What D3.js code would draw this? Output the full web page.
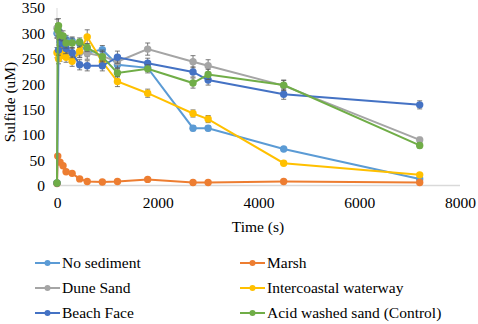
<!DOCTYPE html>
<html>
<head>
<meta charset="utf-8">
<script src="https://cdn.jsdelivr.net/npm/d3@7"></script>
<style>
  body { margin: 0; background: #fff; }
  svg { display: block; }
</style>
</head>
<body>
<svg width="478" height="324"></svg>
<script>
// series values (time in s, sulfide in uM)
var noSedT   = [0, 30, 60, 120, 180, 300, 450, 600, 900, 1200, 1800, 2700, 3000, 4500, 7200];
var noSedV   = [300, 305, 295, 290, 288, 285, 280, 262, 268, 238, 232, 113, 113, 72, 13];
var noSedE   = [10, 10, 10, 8, 8, 8, 8, 8, 8, 8, 6, 5, 5, 4, 3];

var marshT   = [0, 15, 60, 120, 180, 300, 450, 600, 900, 1200, 1800, 2700, 3000, 4500, 7200];
var marshV   = [4, 58, 46, 39, 27, 24, 13, 8, 7, 8, 12, 6, 6, 8, 6];
var marshE   = [1, 3, 2, 2, 2, 2, 1, 1, 1, 1, 1, 1, 1, 1, 1];

var duneT    = [0, 30, 60, 120, 180, 300, 450, 600, 900, 1200, 1800, 2700, 3000, 4500, 7200];
var duneV    = [310, 300, 290, 275, 265, 261, 262, 261, 255, 244, 269, 244, 236, 197, 90];
var duneE    = [18, 12, 12, 10, 10, 10, 10, 12, 12, 12, 12, 12, 12, 10, 5];

var interT   = [0, 30, 60, 120, 180, 300, 450, 600, 900, 1200, 1800, 2700, 3000, 4500, 7200];
var interV   = [262, 250, 255, 268, 253, 245, 265, 293, 244, 205, 182, 142, 131, 44, 21];
var interE   = [10, 10, 10, 10, 10, 10, 12, 14, 12, 10, 8, 7, 7, 4, 3];

var beachT   = [0, 30, 60, 120, 180, 300, 450, 600, 900, 1200, 1800, 2700, 3000, 4500, 7200];
var beachV   = [5, 267, 283, 280, 270, 262, 238, 236, 236, 253, 241, 224, 208, 180, 159];
var beachE   = [2, 10, 10, 10, 10, 10, 10, 10, 10, 12, 10, 10, 10, 10, 8];

var acidT    = [0, 15, 30, 60, 120, 180, 300, 450, 600, 900, 1200, 1800, 2700, 3000, 4500, 7200];
var acidV    = [5, 307, 315, 297, 295, 281, 281, 283, 272, 254, 222, 230, 202, 219, 198, 79];
var acidE    = [2, 12, 14, 10, 10, 10, 10, 8, 8, 10, 8, 8, 10, 10, 10, 5];

var seriesNames  = ["No sediment", "Marsh", "Dune Sand", "Intercoastal waterway", "Beach Face", "Acid washed sand (Control)"];
var seriesColors = ["#5B9BD5", "#ED7D31", "#A5A5A5", "#FFC000", "#4472C4", "#70AD47"];
var xTicks = [0, 2000, 4000, 6000, 8000];
var yTicks = [0, 50, 100, 150, 200, 250, 300, 350];

function serif(sel, size) {
    sel.style("font-family", "'Liberation Serif'")
       .style("font-size", size + "px")
       .attr("fill", "#000");
}

function pack(t, v, e) {
    return t.map(function(d, i) { return {t: d, v: v[i], e: e[i]}; });
}
var series = [
    pack(noSedT, noSedV, noSedE),
    pack(marshT, marshV, marshE),
    pack(duneT, duneV, duneE),
    pack(interT, interV, interE),
    pack(beachT, beachV, beachE),
    pack(acidT, acidV, acidE)
];

var margin = {top: 8, left: 57},
    width = 403,
    height = 177.5,
    fs = 15.5;

var svg = d3.select("svg");

var x = d3.scaleLinear().domain([0, 8000]).range([0, width]);
var y = d3.scaleLinear().domain([0, 350]).range([height, 0]);

var g = svg.append("g")
        .attr("transform", "translate(" + margin.left + "," + margin.top + ")");

// axis lines
g.append("line")
        .attr("x1", 0).attr("x2", width)
        .attr("y1", y(0)).attr("y2", y(0))
        .attr("stroke", "#D9D9D9").attr("stroke-width", 1.5);
g.append("line")
        .attr("x1", 0).attr("x2", 0)
        .attr("y1", y(0)).attr("y2", y(350))
        .attr("stroke", "#D9D9D9").attr("stroke-width", 1);

var xAxis = d3.axisBottom(x).tickValues(xTicks).tickFormat(d3.format("d")).tickSize(0).tickPadding(11);
var yAxis = d3.axisLeft(y).tickValues(yTicks).tickFormat(d3.format("d")).tickSize(0).tickPadding(12);

var gx = g.append("g")
        .attr("transform", "translate(0," + height + ")")
        .call(xAxis);
var gy = g.append("g").call(yAxis);
[gx, gy].forEach(function(a) {
    a.select(".domain").remove();
    a.selectAll("text").call(serif, fs);
});

svg.append("text")
        .attr("transform", "translate(15,102) rotate(-90)")
        .attr("text-anchor", "middle")
        .call(serif, fs)
        .text("Sulfide (uM)");

svg.append("text")
        .attr("x", 258).attr("y", 232)
        .attr("text-anchor", "middle")
        .call(serif, fs)
        .text("Time (s)");

var line = d3.line()
        .x(function(d) { return x(d.t); })
        .y(function(d) { return y(d.v); });

series.forEach(function(data, i) {
    var s = g.append("g");
    var c = seriesColors[i];
    s.append("path")
            .datum(data)
            .attr("fill", "none")
            .attr("stroke", c)
            .attr("stroke-width", 2)
            .attr("d", line);

    // error bars
    var eb = s.selectAll(".err").data(data).enter().append("g")
            .attr("stroke", "#595959").attr("stroke-width", 0.8);
    eb.append("line")
            .attr("x1", function(d) { return x(d.t); })
            .attr("x2", function(d) { return x(d.t); })
            .attr("y1", function(d) { return y(d.v + d.e); })
            .attr("y2", function(d) { return y(d.v - d.e); });
    eb.append("line")
            .attr("x1", function(d) { return x(d.t) - 2.5; })
            .attr("x2", function(d) { return x(d.t) + 2.5; })
            .attr("y1", function(d) { return y(d.v + d.e); })
            .attr("y2", function(d) { return y(d.v + d.e); });
    eb.append("line")
            .attr("x1", function(d) { return x(d.t) - 2.5; })
            .attr("x2", function(d) { return x(d.t) + 2.5; })
            .attr("y1", function(d) { return y(d.v - d.e); })
            .attr("y2", function(d) { return y(d.v - d.e); });

    s.selectAll("circle").data(data).enter().append("circle")
            .attr("cx", function(d) { return x(d.t); })
            .attr("cy", function(d) { return y(d.v); })
            .attr("r", 3.7)
            .attr("fill", c);
});

// legend
var legend = svg.append("g");
seriesNames.forEach(function(name, i) {
    var lx = i % 2 === 0 ? 35 : 240,
        ly = 263 + Math.floor(i / 2) * 25;
    var item = legend.append("g").attr("transform", "translate(" + lx + "," + ly + ")");
    item.append("line")
            .attr("x1", 0).attr("x2", 25)
            .attr("stroke", seriesColors[i]).attr("stroke-width", 2);
    item.append("circle")
            .attr("cx", 12.5).attr("r", 3)
            .attr("fill", seriesColors[i]);
    item.append("text")
            .attr("x", 27).attr("y", 5)
            .call(serif, fs)
            .text(name);
});
</script>
</body>
</html>
